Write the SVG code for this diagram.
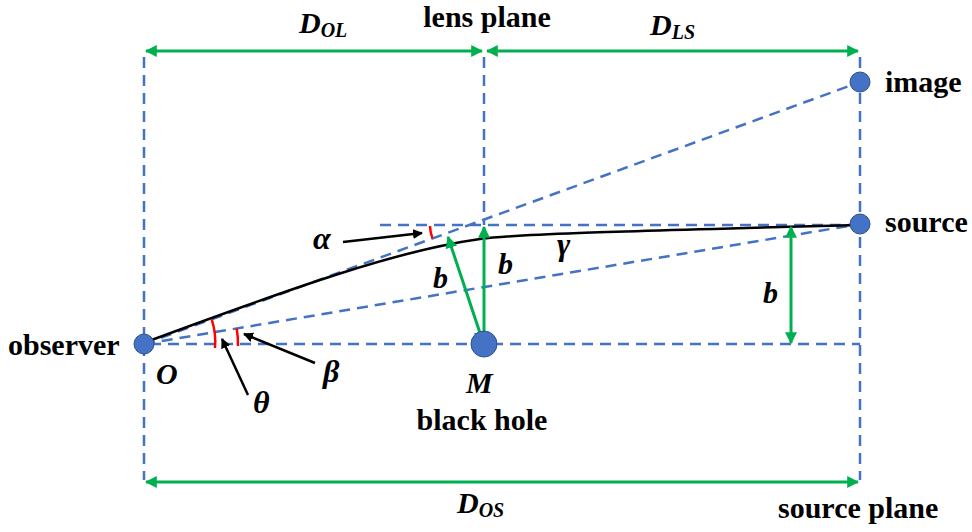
<svg xmlns="http://www.w3.org/2000/svg" width="972" height="532" viewBox="0 0 972 532">
<style>
.dash{stroke:#4472C4;stroke-width:2.5;stroke-dasharray:11 7;fill:none}
.grn{stroke:#00B050;stroke-width:3;fill:none}
.blk{stroke:#000;stroke-width:2.5;fill:none}
.red{stroke:#FF0000;stroke-width:2.5;fill:none}
.dot{fill:#4472C4;stroke:#2F528F;stroke-width:1}
.lbl{font-family:"Liberation Serif",serif;font-weight:bold;font-size:30px;fill:#000}
.math{font-family:"Liberation Serif",serif;font-weight:bold;font-style:italic;font-size:30px;fill:#000}
.gk{font-size:32px}
</style>
<defs>
<marker id="ga" viewBox="0 0 10 10" refX="9" refY="5" markerWidth="4" markerHeight="4" orient="auto-start-reverse" markerUnits="strokeWidth">
<path d="M0,0 L10,5 L0,10 z" fill="#00B050"/>
</marker>
<marker id="ba" viewBox="0 0 10 10" refX="9" refY="5" markerWidth="4" markerHeight="4" orient="auto" markerUnits="strokeWidth">
<path d="M0,0 L10,5 L0,10 z" fill="#000"/>
</marker>
</defs>
<g id="connectors">
<line class="dash" x1="144" y1="57" x2="144" y2="480"/>
<line class="dash" x1="484" y1="57" x2="484" y2="225"/>
<line class="dash" x1="860" y1="57" x2="860" y2="480"/>
<line class="dash" x1="150" y1="344" x2="860" y2="344"/>
<line class="dash" x1="380" y1="225" x2="860" y2="225"/>
<line class="dash" x1="144" y1="344" x2="860" y2="82"/>
<line class="dash" x1="144" y1="344" x2="860" y2="224"/>
<path class="blk" d="M146,342 C300,285 400,250 480,239 C520,234 600,232 855,225"/>
<line class="grn" x1="146" y1="51" x2="482" y2="51" marker-start="url(#ga)" marker-end="url(#ga)"/>
<line class="grn" x1="487" y1="51" x2="858" y2="51" marker-start="url(#ga)" marker-end="url(#ga)"/>
<line class="grn" x1="146" y1="482" x2="858" y2="482" marker-start="url(#ga)" marker-end="url(#ga)"/>
<line class="grn" x1="448" y1="237" x2="483" y2="342" marker-start="url(#ga)" marker-end="url(#ga)"/>
<line class="grn" x1="484" y1="342" x2="484" y2="227" marker-end="url(#ga)"/>
<line class="grn" x1="791" y1="227" x2="791" y2="343" marker-start="url(#ga)" marker-end="url(#ga)"/>
<path class="red" d="M211.7,319.4 A72,72 0 0 1 215,348"/>
<path class="red" d="M236.7,328.5 A94,94 0 0 1 238,346"/>
<path class="red" d="M430,226 A39,39 0 0 0 432.4,238.3"/>
<line class="blk" x1="343" y1="242" x2="422" y2="233" marker-end="url(#ba)"/>
<line class="blk" x1="248" y1="395" x2="222" y2="339" marker-end="url(#ba)"/>
<line class="blk" x1="315" y1="363" x2="244" y2="334" marker-end="url(#ba)"/>
</g>
<g id="observer">
<circle class="dot" cx="144" cy="344" r="10"/>
<text class="lbl" x="8" y="355">observer</text>
<text class="math" x="156" y="384">O</text>
</g>
<g id="blackhole">
<circle class="dot" cx="484" cy="344" r="13"/>
<text class="math" x="466" y="393">M</text>
<text class="lbl" x="482" y="430" text-anchor="middle">black hole</text>
</g>
<g id="image">
<circle class="dot" cx="860" cy="82" r="10"/>
<text class="lbl" x="885" y="92">image</text>
</g>
<g id="source">
<circle class="dot" cx="860" cy="224" r="10"/>
<text class="lbl" x="885" y="232">source</text>
</g>
<g id="labels">
<text class="lbl" x="487" y="27" text-anchor="middle" font-size="28">lens plane</text>
<text class="lbl" x="778" y="518">source plane</text>
<text class="math" x="299" y="33">D<tspan font-size="20" dy="4">OL</tspan></text>
<text class="math" x="650" y="35">D<tspan font-size="20" dy="4">LS</tspan></text>
<text class="math" x="457" y="513">D<tspan font-size="20" dy="4">OS</tspan></text>
<text class="math gk" x="313" y="249">α</text>
<text class="math gk" x="253" y="413">θ</text>
<text class="math gk" x="323" y="382">β</text>
<text class="math" x="433" y="288">b</text>
<text class="math" x="498" y="274">b</text>
<text class="math gk" x="557" y="255">γ</text>
<text class="math" x="763" y="303">b</text>
</g>
</svg>
